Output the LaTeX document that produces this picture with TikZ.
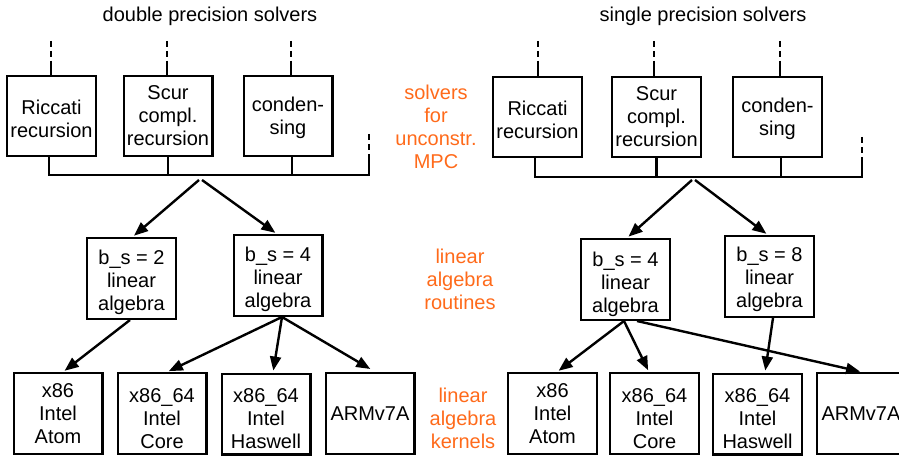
\documentclass[tikz,border=0pt]{standalone}
\usepackage{fontspec}
\setmainfont{Liberation Sans}
\usetikzlibrary{arrows.meta,calc}
\definecolor{labelorange}{HTML}{FF6A1A}
% invisible strut that lifts the top of the first line, so the text sits lower
\newcommand\firstline[1]{\rule{0pt}{#1}}
\tikzset{
  box/.style={draw, line width=2.4pt, minimum width=88.6pt, minimum height=79.6pt,
    inner sep=0pt, align=center, font=\fontsize{20}{23}\selectfont},
  rbox/.style={box, minimum height=80.6pt},
  kbox/.style={box, minimum height=80.6pt},
  wire/.style={line width=2.4pt},
  stub/.style={line width=2.4pt, dash pattern=on 6pt off 4pt on 6pt off 4pt},
  arr/.style={line width=2.4pt, shorten >=2pt, -{Triangle[length=14pt,width=11pt]}},
  title/.style={anchor=base, font=\fontsize{20}{23}\selectfont},
  layer/.style={anchor=base, align=center, text=labelorange, font=\fontsize{20}{23}\selectfont},
}
\begin{document}
\begin{tikzpicture}[x=1pt, y=-1pt]
\useasboundingbox (0,0) rectangle (899,457);
\clip (0,0) rectangle (899,457);

% titles
\node[title] (tl) at (210,22) {double precision solvers};
\node[title] (tr) at (703,22) {single precision solvers};

% layer labels (anchored at the baseline of the last line)
\node[layer] (l1) at (436,169) {solvers\\for\\unconstr.\\MPC};
\node[layer] (l2) at (460,309) {linear\\algebra\\routines};
\node[layer] (l3) at (463,448) {linear\\algebra\\kernels};

% ---------- double precision ----------
\node[box] (ricL) at (51.5,116) {\firstline{20.6pt}Riccati\\recursion};
\node[box] (scuL) at (168,116) {Scur\\compl.\\recursion};
\node[box] (conL) at (288,116) {\firstline{18.6pt}conden-\\sing};

\node[rbox] (bs2L) at (131.5,278.5) {\firstline{22.6pt}b\_s = 2\\linear\\algebra};
\node[rbox] (bs4L) at (278,275.5) {\firstline{22.6pt}b\_s = 4\\linear\\algebra};

\node[kbox] (atoL) at (58,413.5) {x86\\Intel\\Atom};
\node[kbox] (corL) at (162,413.5) {\firstline{23.3pt}x86\_64\\Intel\\Core};
\node[kbox] (hasL) at (266,414) {\firstline{23.3pt}x86\_64\\Intel\\Haswell};
\node[kbox] (armL) at (370,413.5) {ARMv7A};

% stubs on top of the solver boxes
\foreach \n/\dx in {ricL/-0.5, scuL/-1, conL/3} {
  \coordinate (\n-top) at ($(\n.north)+(\dx,-34)$);
  \coordinate (\n-mid) at ($(\n.north)+(\dx,-14)$);
  \draw[stub] (\n-top) -- (\n-mid);
  \draw[wire] (\n-mid) -- ($(\n.north)+(\dx,0)$);
}
% bus joining the solvers
\coordinate (ricL-b) at ($(ricL.south)+(-2.5,0)$);
\coordinate (scuL-b) at (scuL.south);
\coordinate (conL-b) at ($(conL.south)+(4,0)$);
\coordinate (busL-y) at (0,175);
\coordinate (busL-e) at (369,175);
\coordinate (busL-top) at (369,134);
\coordinate (busL-mid) at (369,154);
\draw[wire] (ricL-b) -- (ricL-b |- busL-y) -- (busL-e) -- (busL-mid);
\draw[stub] (busL-top) -- (busL-mid);
\draw[wire] (scuL-b) -- (scuL-b |- busL-y);
\draw[wire] (conL-b) -- (conL-b |- busL-y);

\coordinate (splL) at (200,180);
\draw[arr] ($(splL)+(-1,0)$) -- ($(bs2L.north)+(1,0)$);
\draw[arr] ($(splL)+(2,0)$) -- ($(bs4L.north)+(-1,0)$);

\draw[arr] ($(bs2L.south)+(-1.5,0)$) -- ($(atoL.north)+(5,0)$);
\draw[arr] ($(bs4L.south)+(4,0)$) -- ($(corL.north)+(5,0)$);
\draw[arr] ($(bs4L.south)+(4,0)$) -- ($(hasL.north)+(7,0)$);
\draw[arr] ($(bs4L.south)+(4,0)$) -- ($(armL.north)+(2,-2)$);

% ---------- single precision ----------
\node[box] (ricR) at (537.5,117) {\firstline{20.6pt}Riccati\\recursion};
\node[box] (scuR) at (656.5,117) {Scur\\compl.\\recursion};
\node[box] (conR) at (777.5,117) {\firstline{18.6pt}conden-\\sing};

\node[rbox] (bs4R) at (625.5,279.5) {\firstline{23.6pt}b\_s = 4\\linear\\algebra};
\node[rbox] (bs8R) at (769.5,276.5) {\firstline{20.6pt}b\_s = 8\\linear\\algebra};

\node[kbox] (atoR) at (552.5,413.5) {x86\\Intel\\Atom};
\node[kbox] (corR) at (654.5,413.5) {\firstline{23.3pt}x86\_64\\Intel\\Core};
\node[kbox] (hasR) at (757.5,414) {\firstline{23.3pt}x86\_64\\Intel\\Haswell};
\node[kbox] (armR) at (861,413.5) {ARMv7A};

\foreach \n/\dx in {ricR/0.5, scuR/-2.5, conR/2.5} {
  \coordinate (\n-top) at ($(\n.north)+(\dx,-35)$);
  \coordinate (\n-mid) at ($(\n.north)+(\dx,-15)$);
  \draw[stub] (\n-top) -- (\n-mid);
  \draw[wire] (\n-mid) -- ($(\n.north)+(\dx,0)$);
}
\coordinate (ricR-b) at ($(ricR.south)+(-2.5,0)$);
\coordinate (scuR-b) at (scuR.south);
\coordinate (conR-b) at ($(conR.south)+(3.5,0)$);
\coordinate (busR-y) at (0,177);
\coordinate (busR-e) at (862,177);
\coordinate (busR-top) at (862,137);
\coordinate (busR-mid) at (862,157);
\draw[wire] (ricR-b) -- (ricR-b |- busR-y) -- (busR-e) -- (busR-mid);
\draw[stub] (busR-top) -- (busR-mid);
\draw[wire] (scuR-b) -- (scuR-b |- busR-y);
\draw[wire] (conR-b) -- (conR-b |- busR-y);

\coordinate (splR) at (693,180);
\draw[arr] ($(splR)+(-1,0)$) -- ($(bs4R.north)+(1.5,0)$);
\draw[arr] ($(splR)+(2,0)$) -- ($(bs8R.north)+(-1.5,0)$);

\draw[arr] ($(bs4R.south)+(-1.5,0)$) -- ($(atoR.north)+(4.5,0)$);
\draw[arr] ($(bs4R.south)+(-1.5,0)$) -- ($(corR.north)+(-5.5,0)$);
\draw[arr] ($(bs4R.south)+(11.5,0)$) -- ($(armR.north)+(1,0)$);
\draw[arr] ($(bs8R.south)+(3.5,0)$) -- ($(hasR.north)+(7.5,0)$);
\end{tikzpicture}
\end{document}
